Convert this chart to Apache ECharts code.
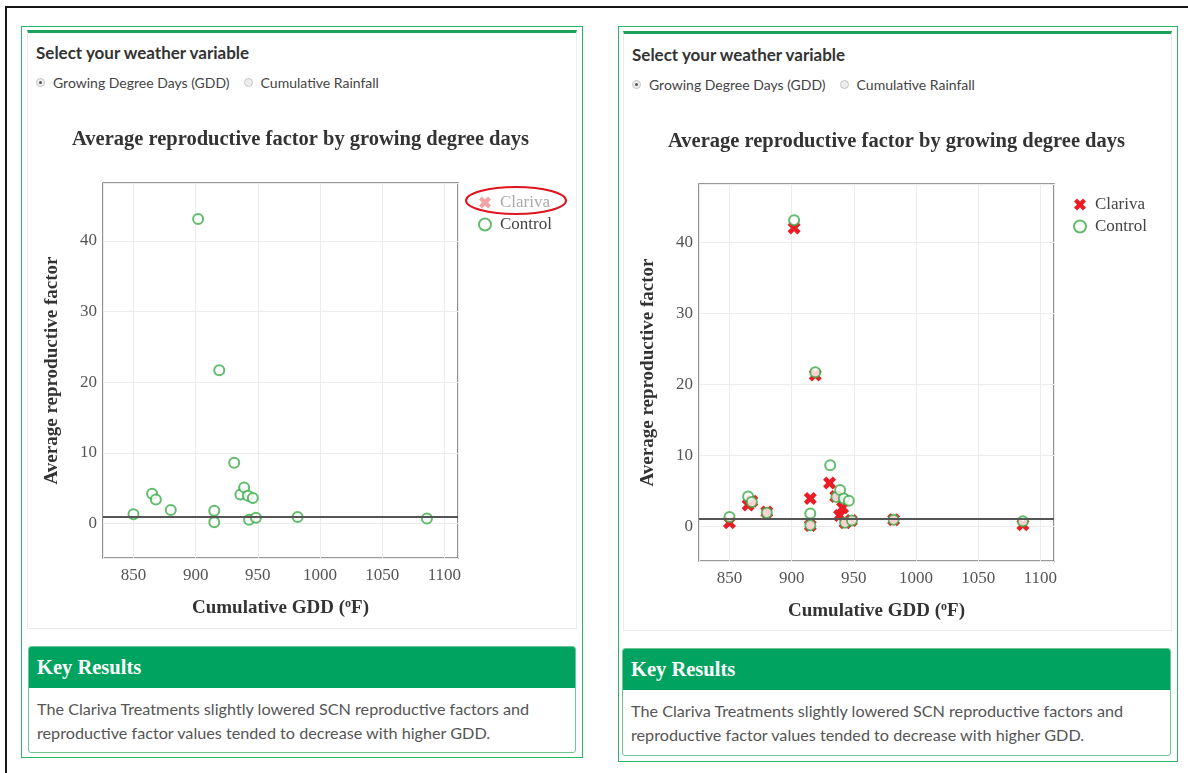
<!DOCTYPE html>
<html>
<head>
<meta charset="utf-8">
<script src="https://cdn.jsdelivr.net/npm/echarts@6/dist/echarts.min.js"></script>
<style>
  html,body{margin:0;padding:0;background:#fff;}
  body{width:1188px;height:773px;position:relative;overflow:hidden;font-family:Lato,"Open Sans",sans-serif;}
  .abs{position:absolute;}
  .frame{left:5px;top:6px;width:1300px;height:900px;border:2px solid #161616;}
  .outer{border:1px solid #2bb665;box-sizing:border-box;}
  .card{border:1px solid #ececec;border-top:3px solid #1aa15b;box-sizing:border-box;background:#fff;}
  .sel{font-weight:bold;font-size:17px;color:#333;line-height:20px;white-space:nowrap;}
  .radio{font-size:14px;color:#444;line-height:18px;white-space:nowrap;}
  .rb{display:inline-block;width:9px;height:9px;border-radius:50%;border:1px solid #c4c4c4;background:#eee;box-sizing:border-box;position:relative;vertical-align:middle;margin-right:8px;margin-top:-3px;}
  .rb.on::after{content:"";position:absolute;left:2px;top:2px;width:3px;height:3px;border-radius:50%;background:#555;}
  .gap{display:inline-block;width:14px;}
  .kr{border:1px solid #6cc795;border-radius:3px;box-sizing:border-box;overflow:hidden;background:#fff;}
  .krh{background:#00a35f;color:#fff;font-family:"Liberation Serif",serif;font-weight:bold;font-size:20.5px;height:41px;line-height:41px;padding-left:8px;}
  .krb{font-size:16.2px;color:#555;line-height:24px;padding:9px 8px 0 8px;}
  .chart{position:absolute;}
</style>
</head>
<body>
<div class="abs frame"></div>

<!-- left panel -->
<div class="abs outer" style="left:21px;top:26px;width:562px;height:732px;"></div>
<div class="abs card" style="left:27px;top:30px;width:550px;height:599px;"></div>
<div class="abs sel" style="left:36px;top:43px;">Select your weather variable</div>
<div class="abs radio" style="left:36px;top:74px;"><span class="rb on"></span>Growing Degree Days (GDD)<span class="gap"></span><span class="rb"></span>Cumulative Rainfall</div>
<div class="abs kr" style="left:28px;top:646px;width:548px;height:107px;">
  <div class="krh">Key Results</div>
  <div class="krb">The Clariva Treatments slightly lowered SCN reproductive factors and reproductive factor values tended to decrease with higher GDD.</div>
</div>

<!-- right panel -->
<div class="abs outer" style="left:618px;top:26px;width:560px;height:736px;"></div>
<div class="abs card" style="left:623px;top:31px;width:549px;height:600px;"></div>
<div class="abs sel" style="left:632px;top:45px;">Select your weather variable</div>
<div class="abs radio" style="left:632px;top:76px;"><span class="rb on"></span>Growing Degree Days (GDD)<span class="gap"></span><span class="rb"></span>Cumulative Rainfall</div>
<div class="abs kr" style="left:622px;top:648px;width:549px;height:108px;">
  <div class="krh">Key Results</div>
  <div class="krb">The Clariva Treatments slightly lowered SCN reproductive factors and reproductive factor values tended to decrease with higher GDD.</div>
</div>

<div id="c1" class="chart" style="left:21px;top:100px;width:560px;height:530px;"></div>
<div id="c2" class="chart" style="left:618px;top:100px;width:558px;height:533px;"></div>

<script>
// ---- data ----
const chartTitle = 'Average reproductive factor by growing degree days';
const seriesNames = ['Clariva', 'Control'];
const gddClariva = [850, 865, 868, 880, 902, 915, 915, 919, 930.5, 935.5, 938.5, 941, 943, 948, 982, 1086];
const rfClariva  = [0.5, 3.0, 3.5, 2.0, 42.0, 3.9, 0.1, 21.3, 6.1, 4.2, 1.5, 2.6, 0.5, 0.8, 0.9, 0.2];
const gddControl = [850, 865, 868, 880, 902, 915, 915, 919, 931, 936, 939, 942, 946, 943, 948.5, 982, 1086];
const rfControl  = [1.3, 4.2, 3.4, 1.9, 43.1, 1.8, 0.15, 21.7, 8.6, 4.1, 5.1, 3.9, 3.6, 0.5, 0.8, 0.9, 0.7];
const referenceRF = 1;
const xRange = [825.5, 1111];
const yRange = [-4.9, 48.2];

const RED = '#ec1c24', GREEN = '#3bab49';
const SERIF = '"Liberation Serif","DejaVu Serif",serif';
const xSymbol = 'path://M0,2.5 L2.5,0 L5,2.5 L7.5,0 L10,2.5 L7.5,5 L10,7.5 L7.5,10 L5,7.5 L2.5,10 L0,7.5 L2.5,5 Z';

function zip(a, b) { return a.map((v, i) => [v, b[i]]); }

function makeOption(cfg) {
  const opt = {
    animation: false,
    title: {
      text: chartTitle, left: cfg.titleLeft, top: cfg.titleTop,
      textStyle: { fontFamily: SERIF, fontSize: 20.5, fontWeight: 'bold', color: '#333' }
    },
    legend: {
      orient: 'vertical', left: cfg.legLeft, top: cfg.legTop,
      itemWidth: 20, itemHeight: 12, itemGap: 5,
      inactiveColor: '#f4a3a5',
      selected: { Clariva: cfg.showClariva, Control: true },
      data: [{ name: 'Clariva', icon: xSymbol }, { name: 'Control', icon: 'emptyCircle' }],
      formatter: function (n) { return (n === 'Clariva' && !cfg.showClariva) ? '{g|' + n + '}' : '{n|' + n + '}'; },
      textStyle: {
        fontFamily: SERIF, fontSize: 17, color: '#444',
        rich: { g: { color: '#aaaaaa', fontFamily: SERIF, fontSize: 17 }, n: { color: '#444', fontFamily: SERIF, fontSize: 17 } }
      }
    },
    grid: {
      left: cfg.gridLeft, top: cfg.gridTop, width: 355, height: cfg.gridH,
      show: true, borderColor: '#777', borderWidth: 1.6, backgroundColor: 'transparent'
    },
    xAxis: {
      type: 'value', min: xRange[0], max: xRange[1], splitNumber: 5, minInterval: 50, maxInterval: 50,
      name: '{t|Cumulative GDD (}{s|o}{t|F)}', nameLocation: 'middle', nameGap: 40,
      nameTextStyle: {
        rich: {
          t: { fontFamily: SERIF, fontSize: 19, fontWeight: 'bold', color: '#333' },
          s: { fontFamily: SERIF, fontSize: 12, fontWeight: 'bold', color: '#333', verticalAlign: 'top', padding: [0, 0, 8, 0] }
        }
      },
      axisLine: { show: false }, axisTick: { show: false },
      axisLabel: { margin: 9, fontFamily: SERIF, fontSize: 17, color: '#555',
        formatter: v => (Math.abs(v % 50) < 1e-6 ? String(v) : '') },
      splitLine: { lineStyle: { color: '#ececec', width: 1 } }
    },
    yAxis: {
      type: 'value', min: yRange[0], max: yRange[1], splitNumber: 5, minInterval: 10, maxInterval: 10,
      name: 'Average reproductive factor', nameLocation: 'middle', nameGap: 41, nameRotate: 90,
      nameTextStyle: { fontFamily: SERIF, fontSize: 19, fontWeight: 'bold', color: '#333' },
      axisLine: { show: false }, axisTick: { show: false },
      axisLabel: { margin: 6, fontFamily: SERIF, fontSize: 17, color: '#555',
        formatter: v => (Math.abs(v % 10) < 1e-6 ? String(v) : '') },
      splitLine: { lineStyle: { color: '#ececec', width: 1 } }
    },
    series: [
      {
        name: 'Clariva', type: 'scatter', data: zip(gddClariva, rfClariva),
        symbol: xSymbol, symbolSize: 13, z: 3,
        itemStyle: { color: RED, opacity: 1 }
      },
      {
        name: 'Control', type: 'scatter', data: zip(gddControl, rfControl),
        symbol: 'emptyCircle', symbolSize: 10, z: 4,
        itemStyle: { color: GREEN, borderColor: GREEN, borderWidth: 1.8 },
        markLine: {
          silent: true, symbol: 'none', label: { show: false }, z: 5,
          lineStyle: { color: '#555', width: 2, type: 'solid' },
          data: [{ yAxis: referenceRF }]
        }
      }
    ],
    graphic: []
  };
  if (cfg.ellipse) {
    opt.graphic.push({
      type: 'ellipse', shape: cfg.ellipse, z: 100,
      style: { fill: 'none', stroke: '#e0141e', lineWidth: 2 }
    });
  }
  return opt;
}

const c1 = echarts.init(document.getElementById('c1'));
c1.setOption(makeOption({
  showClariva: false, titleLeft: 46, titleTop: 24,
  legLeft: 452, legTop: 89, gridLeft: 82, gridTop: 83, gridH: 375,
  ellipse: { cx: 495, cy: 100.5, rx: 50, ry: 13.5 }
}));

const c2 = echarts.init(document.getElementById('c2'));
c2.setOption(makeOption({
  showClariva: true, titleLeft: 45, titleTop: 26,
  legLeft: 450, legTop: 91, gridLeft: 81, gridTop: 84, gridH: 377,
  ellipse: null
}));
</script>
</body>
</html>
